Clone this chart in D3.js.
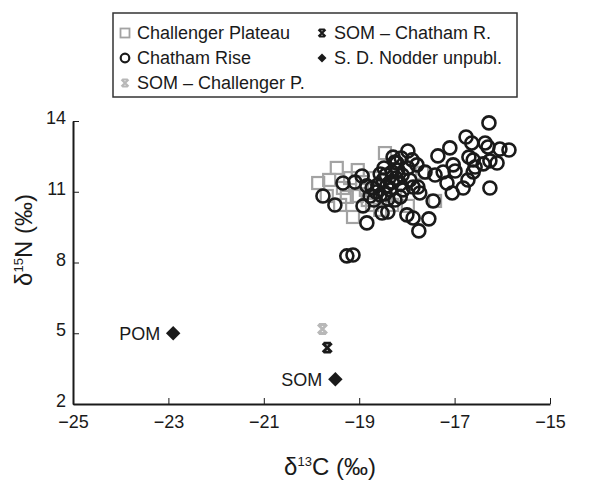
<!DOCTYPE html>
<html>
<head>
<meta charset="utf-8">
<script src="https://cdn.jsdelivr.net/npm/d3@7"></script>
<style>
  body { margin: 0; background: #fff; }
  svg text { font-family: "Liberation Sans", Arial, Helvetica, sans-serif; fill: #1a1a1a; }
</style>
</head>
<body>
<div id="chart"></div>
<script>
// d13C, d15N pairs
const challengerPlateau = [
  [-18.46, 12.64], [-19.47, 12.01], [-19.03, 11.92], [-19.86, 11.37], [-19.63, 11.50],
  [-19.68, 10.82], [-19.34, 11.16], [-19.26, 10.78], [-19.05, 10.82], [-18.82, 10.65],
  [-19.13, 9.93], [-17.98, 10.40], [-17.41, 10.61], [-17.68, 11.80], [-18.73, 10.44],
  [-18.94, 11.41], [-19.19, 11.58], [-19.40, 10.44], [-18.56, 10.23], [-18.31, 10.44],
  [-18.67, 11.58], [-18.25, 10.86], [-18.86, 11.08]
];

const chathamRise = [
  [-16.28, 13.92], [-16.76, 13.32], [-16.64, 13.07], [-16.36, 13.07], [-16.30, 12.90],
  [-16.05, 12.81], [-15.86, 12.77], [-17.10, 12.86], [-17.35, 12.52], [-17.98, 12.73],
  [-16.70, 12.47], [-16.61, 12.35], [-16.26, 12.31], [-16.11, 12.22], [-16.40, 12.18],
  [-17.03, 12.14], [-16.99, 11.88], [-16.57, 12.05], [-16.61, 11.84], [-16.72, 11.50],
  [-16.82, 11.16], [-17.16, 11.37], [-17.05, 10.95], [-17.24, 11.84], [-17.41, 11.71],
  [-17.62, 11.84], [-17.79, 12.14], [-16.26, 11.16], [-17.45, 10.61], [-17.54, 9.85],
  [-17.75, 9.34], [-17.87, 9.89], [-18.00, 10.02], [-17.73, 10.95], [-17.77, 11.20],
  [-17.87, 11.20], [-18.14, 10.78], [-18.40, 10.14], [-18.52, 10.10], [-18.84, 9.68],
  [-18.92, 10.40], [-19.51, 10.44], [-19.76, 10.82], [-19.34, 11.37], [-19.09, 11.41],
  [-18.94, 11.67], [-18.29, 12.47], [-18.25, 12.26], [-19.26, 8.28], [-19.13, 8.32],
  [-18.73, 11.16], [-18.61, 11.29], [-18.50, 11.50], [-18.42, 11.25], [-18.35, 11.08],
  [-18.46, 10.91], [-18.56, 10.86], [-18.65, 10.99], [-18.31, 11.41], [-18.23, 11.58],
  [-18.14, 11.33], [-18.08, 11.08], [-18.19, 11.92], [-18.31, 11.84], [-18.44, 11.71],
  [-18.56, 11.75], [-18.77, 10.82], [-18.69, 10.65], [-18.40, 10.69], [-18.25, 10.65],
  [-18.84, 11.25], [-18.10, 11.71], [-17.94, 11.50], [-17.98, 12.01], [-18.48, 12.01],
  [-18.21, 12.22], [-18.12, 12.43], [-17.89, 12.35]
];

const somChallenger = [[-19.77, 5.18]];
const somChatham = [[-19.67, 4.39]];
const nodder = [[-22.9, 5.0, "POM"], [-19.5, 3.05, "SOM"]];

const xTicks = [-25, -23, -21, -19, -17, -15];
const yTicks = [2, 5, 8, 11, 14];

const legendItems = [
  ["square", "Challenger Plateau"],
  ["circle", "Chatham Rise"],
  ["starGrey", "SOM \u2013 Challenger P."],
  ["starBlack", "SOM \u2013 Chatham R."],
  ["diamond", "S. D. Nodder unpubl."]
];

const width = 599, height = 484;
const margin = {left: 73, right: 49, top: 121, bottom: 80};

const svg = d3.select('#chart').append('svg')
  .attr('width', width)
  .attr('height', height);

const x = d3.scaleLinear().domain([-25, -15]).range([margin.left, width - margin.right]);
const y = d3.scaleLinear().domain([2, 14]).range([height - margin.bottom, margin.top]);

const dark = '#1a1a1a';
const grey = '#a3a3a3';
const lightGrey = '#b8b8b8';

// marker helpers
function drawSquare(g, cx, cy, s, color, sw){
  g.append('rect')
    .attr('x', cx - s/2).attr('y', cy - s/2)
    .attr('width', s).attr('height', s)
    .attr('fill', 'none').attr('stroke', color).attr('stroke-width', sw);
}
function drawCircle(g, cx, cy, r, sw){
  g.append('circle')
    .attr('cx', cx).attr('cy', cy).attr('r', r)
    .attr('fill', 'none').attr('stroke', dark).attr('stroke-width', sw);
}
function drawStar(g, cx, cy, s, color, sw){
  const h = s/2;
  g.append('path')
    .attr('d', `M${cx-h},${cy-h}L${cx+h},${cy+h}M${cx+h},${cy-h}L${cx-h},${cy+h}M${cx-h*0.8},${cy-h}H${cx+h*0.8}M${cx-h*0.8},${cy+h}H${cx+h*0.8}`)
    .attr('stroke', color).attr('stroke-width', sw).attr('fill', 'none');
}
function drawDiamond(g, cx, cy, area){
  g.append('path')
    .attr('d', d3.symbol(d3.symbolSquare, area)())
    .attr('transform', `translate(${cx},${cy}) rotate(45)`)
    .attr('fill', dark);
}

// axes
const xAxis = d3.axisBottom(x).tickValues(xTicks)
  .tickSizeInner(-6).tickSizeOuter(0).tickPadding(11)
  .tickFormat(d => d < 0 ? '\u2212' + Math.abs(d) : d);
const yAxis = d3.axisLeft(y).tickValues(yTicks)
  .tickSizeInner(-6).tickSizeOuter(0).tickPadding(7);

const gx = svg.append('g')
  .attr('transform', `translate(0,${y(2)})`)
  .call(xAxis);
const gy = svg.append('g')
  .attr('transform', `translate(${x(-25)},0)`)
  .call(yAxis);

[gx, gy].forEach(g => {
  g.select('.domain').attr('stroke', dark).attr('stroke-width', 2);
  g.selectAll('.tick line').attr('stroke', dark).attr('stroke-width', 1);
  g.selectAll('.tick text').attr('font-size', 18).attr('fill', dark)
    .style('font-family', '"Liberation Sans", Arial, sans-serif');
});
gy.selectAll('.tick text').attr('dy', '0.15em');

// axis titles
const xt = svg.append('text')
  .attr('x', 330)
  .attr('y', 475)
  .attr('text-anchor', 'middle')
  .attr('font-size', 24);
xt.append('tspan').text('\u03B4');
xt.append('tspan').attr('font-size', 13).attr('dy', -9).text('13');
xt.append('tspan').attr('dy', 9).text('C (\u2030)');

const yt = svg.append('text')
  .attr('transform', `translate(32,240) rotate(-90)`)
  .attr('text-anchor', 'middle')
  .attr('font-size', 24);
yt.append('tspan').text('\u03B4');
yt.append('tspan').attr('font-size', 13).attr('dy', -9).text('15');
yt.append('tspan').attr('dy', 9).text('N (\u2030)');

// data marks
const plot = svg.append('g');

challengerPlateau.forEach(d => drawSquare(plot, x(d[0]), y(d[1]), 12, grey, 2.2));
chathamRise.forEach(d => drawCircle(plot, x(d[0]), y(d[1]), 6.5, 2.6));
somChallenger.forEach(d => drawStar(plot, x(d[0]), y(d[1]), 9, lightGrey, 2.8));
somChatham.forEach(d => drawStar(plot, x(d[0]), y(d[1]), 9, dark, 2.8));
nodder.forEach(d => {
  drawDiamond(plot, x(d[0]), y(d[1]), 105);
  plot.append('text')
    .attr('x', x(d[0]) - 13)
    .attr('y', y(d[1]))
    .attr('dy', '0.35em')
    .attr('text-anchor', 'end')
    .attr('font-size', 18)
    .text(d[2]);
});

// legend
const legend = svg.append('g');
legend.append('rect')
  .attr('x', 113).attr('y', 13)
  .attr('width', 404).attr('height', 84)
  .attr('fill', '#fff').attr('stroke', '#333').attr('stroke-width', 1.5);

legendItems.forEach((item, i) => {
  const col = i < 3 ? 0 : 1;
  const row = i < 3 ? i : i - 3;
  const mx = col === 0 ? 125 : 322;
  const my = 33 + row * 25;
  if(item[0] === 'square') drawSquare(legend, mx, my, 9, grey, 1.8);
  if(item[0] === 'circle') drawCircle(legend, mx, my, 4.3, 2.2);
  if(item[0] === 'starGrey') drawStar(legend, mx, my, 7, lightGrey, 2.2);
  if(item[0] === 'starBlack') drawStar(legend, mx, my, 7, dark, 2.2);
  if(item[0] === 'diamond') drawDiamond(legend, mx, my, 40);
  legend.append('text')
    .attr('x', mx + 12)
    .attr('y', my)
    .attr('dy', '0.35em')
    .attr('font-size', 18)
    .text(item[1]);
});
</script>
</body>
</html>
